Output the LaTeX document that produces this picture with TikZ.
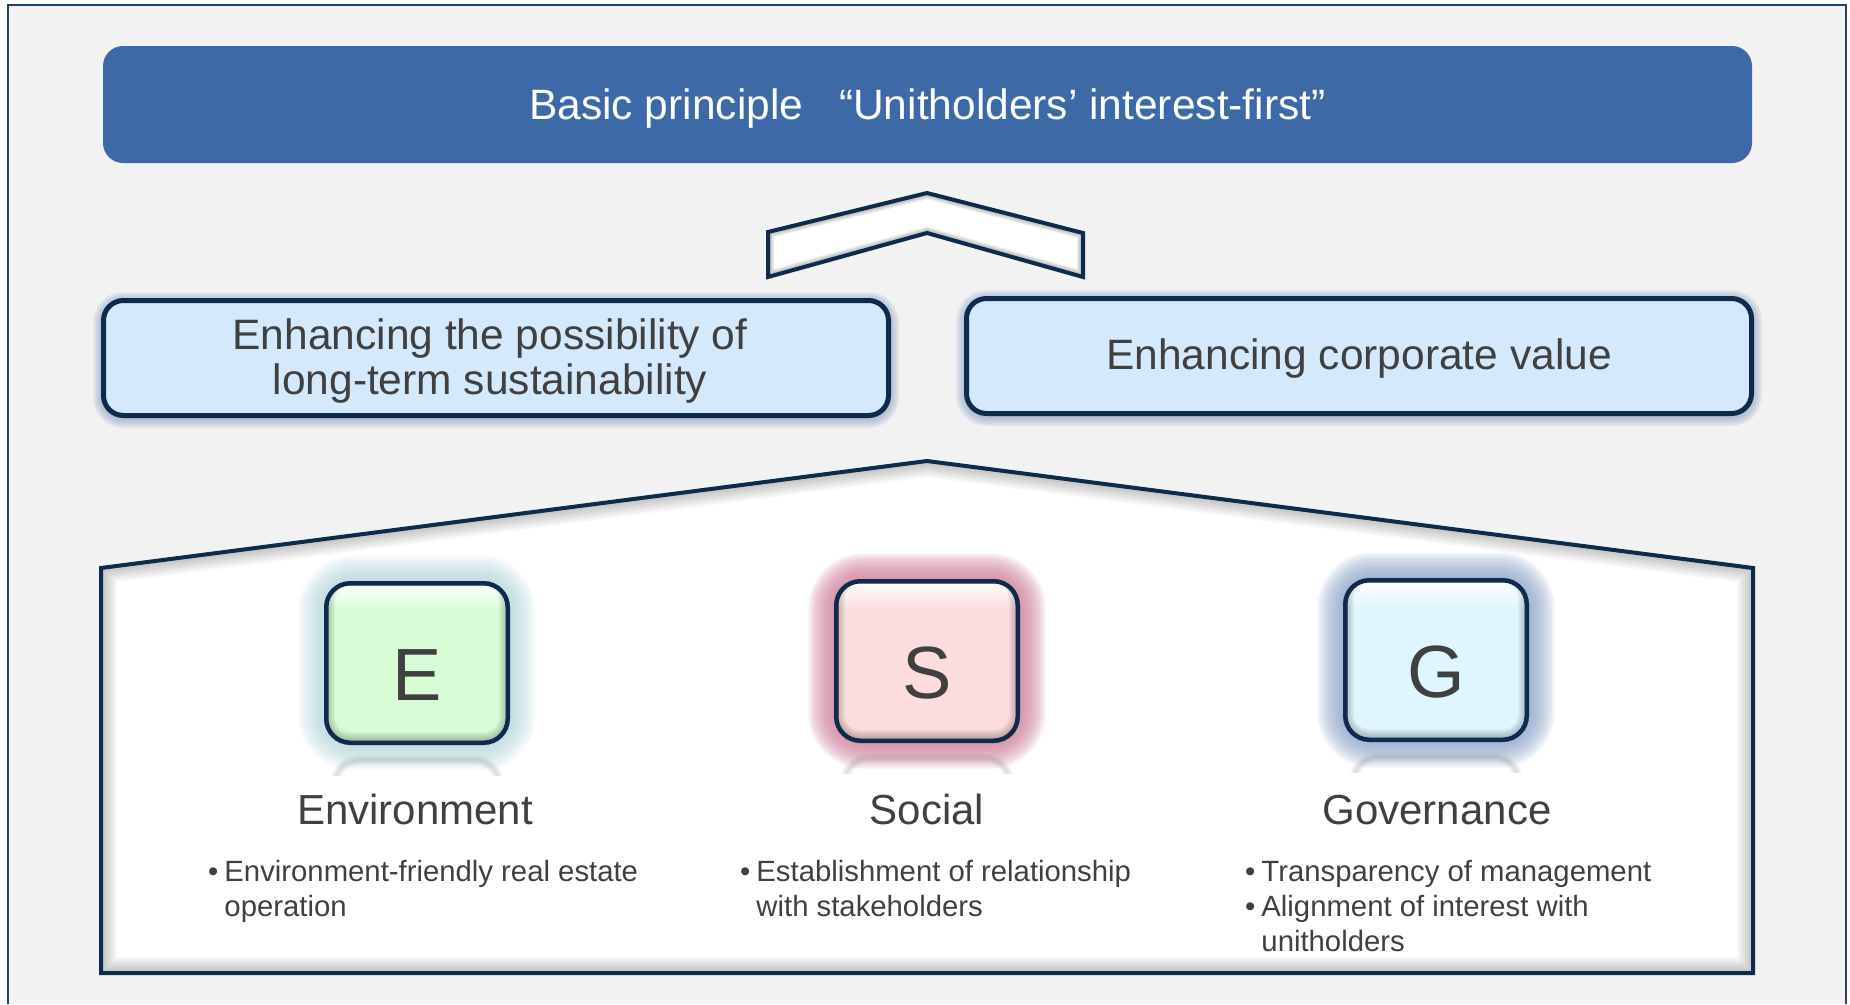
\documentclass[tikz,border=0pt]{standalone}
\usepackage{fontspec}
\setmainfont{Liberation Sans}
\definecolor{frameblue}{HTML}{1F4470}
\definecolor{bg}{HTML}{F2F2F2}
\definecolor{titleblue}{HTML}{3D6AA7}
\definecolor{navy}{HTML}{0E2A4D}
\definecolor{midfill}{HTML}{D5E9FC}
\definecolor{txt}{HTML}{404040}
\definecolor{efill}{HTML}{D8FCD6}
\definecolor{sfill}{HTML}{FDDCDD}
\definecolor{gfill}{HTML}{E0F6FE}
\definecolor{eglow}{HTML}{A8D0D8}
\definecolor{sglow}{HTML}{D0809C}
\definecolor{gglow}{HTML}{8AA0C8}
\definecolor{mglow}{HTML}{7F96BE}
\tikzset{
  titlebox/.style={fill=titleblue, rounded corners=20pt, minimum width=1649pt, minimum height=117pt,
    inner sep=0pt, text=white, font=\fontsize{42.5}{50}\selectfont, text height=30pt, text depth=0pt},
  midbox/.style={draw=navy, line width=5pt, fill=midfill, rounded corners=20pt, minimum width=785pt,
    minimum height=115pt, inner sep=0pt, text=txt, font=\fontsize{42.5}{45}\selectfont, align=center},
  esgbox/.style={draw=navy, line width=4.5pt, rounded corners=24pt, minimum width=181.5pt,
    minimum height=159.5pt, inner sep=0pt, text=txt, font=\fontsize{74}{80}\selectfont,
    text height=75pt, text depth=0pt},
  esglabel/.style={anchor=base, text=txt, font=\fontsize{42}{50}\selectfont, inner sep=0pt},
  bulletlist/.style={anchor=north west, text=txt, font=\fontsize{29.3}{35}\selectfont, inner sep=0pt},
  navyline/.style={draw=navy, line width=4pt, line join=miter},
}
\newcommand\esgunit[7]{%
  \foreach \k in {1,...,10}{\draw[#5, opacity=#6, line width={\k*5.5pt}, rounded corners=28pt]
     ({#2-91},{#3-80}) rectangle ({#2+91},{#3+80});}
  \begin{scope}
    \clip ({#2-100},{#3+86}) rectangle ({#2+100},{#3+112});
    \foreach \k in {1,...,5}{\draw[gray, opacity=0.05, line width={\k*2pt}, rounded corners=24pt]
       ({#2-82},{#3+97}) rectangle ({#2+82},{#3+260});}
  \end{scope}
  \fill[#4, rounded corners=24pt] ({#2-91},{#3-80}) rectangle ({#2+91},{#3+80});
  \begin{scope}
    \clip[rounded corners=24pt] ({#2-91},{#3-80}) rectangle ({#2+91},{#3+80});
    \shade[top color=white, bottom color=#4] ({#2-100},{#3-82}) rectangle ({#2+100},{#3-52});
    \foreach \k in {1,...,6}{\draw[black, opacity=0.045, line width={\k*3pt}, rounded corners=24pt]
       ({#2-91},{#3-86}) rectangle ({#2+91},{#3+78});}
  \end{scope}
  \node[esgbox] (#1) at (#2,#3) {#7};
}
\begin{document}
\begin{tikzpicture}[x=1pt,y=-1pt]
\useasboundingbox (0,0) rectangle (1850,1004);
\fill[white] (0,0) rectangle (1850,1004);
\fill[bg] (8,5) rectangle (1846,1004);
\draw[frameblue, line width=2.5pt] (8,1004) -- (8,5) -- (1846,5) -- (1846,1004);

% title
\node[titlebox] (title) at (927.5,104.5) {Basic principle\hspace{36pt}“Unitholders’ interest-first”};

% chevron
\fill[white] (768,232) -- (927,193) -- (1083,233) -- (1083,277) -- (927,233) -- (768,277) -- cycle;
\begin{scope}
  \clip (768,232) -- (927,193) -- (1083,233) -- (1083,277) -- (927,233) -- (768,277) -- cycle;
  \foreach \k in {1,...,5}{\draw[black, opacity=0.07, line width={\k*2.5pt}, line join=miter]
     (768,232) -- (927,193) -- (1083,233) -- (1083,277) -- (927,233) -- (768,277) -- cycle;}
\end{scope}
\draw[navyline] (768,232) -- (927,193) -- (1083,233) -- (1083,277) -- (927,233) -- (768,277) -- cycle;

% middle boxes
\foreach \k in {1,...,6}{\draw[mglow, opacity=0.13, line width={\k*3.5pt}, rounded corners=20pt]
   (103.5,302.5) rectangle (888.5,417.5);}
\foreach \k in {1,...,6}{\draw[mglow, opacity=0.13, line width={\k*3.5pt}, rounded corners=20pt]
   (966.5,300.5) rectangle (1751.5,415.5);}
\node[midbox] (sust) at (496,358) {\rule{0pt}{36pt}Enhancing the possibility of\hspace*{12pt}\\long-term sustainability\hspace*{12pt}};
\node[midbox, text height=26pt, text depth=0pt] (corp) at (1359,356) {Enhancing corporate value};

% house
\fill[white] (101,568) -- (927,461) -- (1753,568) -- (1753,973) -- (101,973) -- cycle;
\begin{scope}
  \clip (101,568) -- (927,461) -- (1753,568) -- (1753,973) -- (101,973) -- cycle;
  \foreach \k in {1,...,8}{\draw[black, opacity=0.03, line width={\k*4pt}, line join=miter]
     (101,568) -- (927,461) -- (1753,568) -- (1753,973) -- (101,973) -- cycle;}
\end{scope}
\draw[navyline] (101,568) -- (927,461) -- (1753,568) -- (1753,973) -- (101,973) -- cycle;

% ESG boxes
\esgunit{E}{417}{663}{efill}{eglow}{0.1}{E}
\esgunit{S}{927}{661}{sfill}{sglow}{0.15}{S}
\esgunit{G}{1436}{660}{gfill}{gglow}{0.13}{G}

\node[esglabel] (envlabel) at (415,824) {Environment};
\node[esglabel] (soclabel) at (927,824) {Social};
\node[esglabel] (govlabel) at (1437,824) {Governance};

\node[bulletlist] (envlist) at (208,857) {\begin{tabular}{@{}l@{\hspace{6pt}}l@{}}•&Environment-friendly real estate\\&operation\end{tabular}};
\node[bulletlist] (soclist) at (740,857) {\begin{tabular}{@{}l@{\hspace{6pt}}l@{}}•&Establishment of relationship\\&with stakeholders\end{tabular}};
\node[bulletlist] (govlist) at (1245,857) {\begin{tabular}{@{}l@{\hspace{6pt}}l@{}}•&Transparency of management\\•&Alignment of interest with\\&unitholders\end{tabular}};
\end{tikzpicture}
\end{document}
